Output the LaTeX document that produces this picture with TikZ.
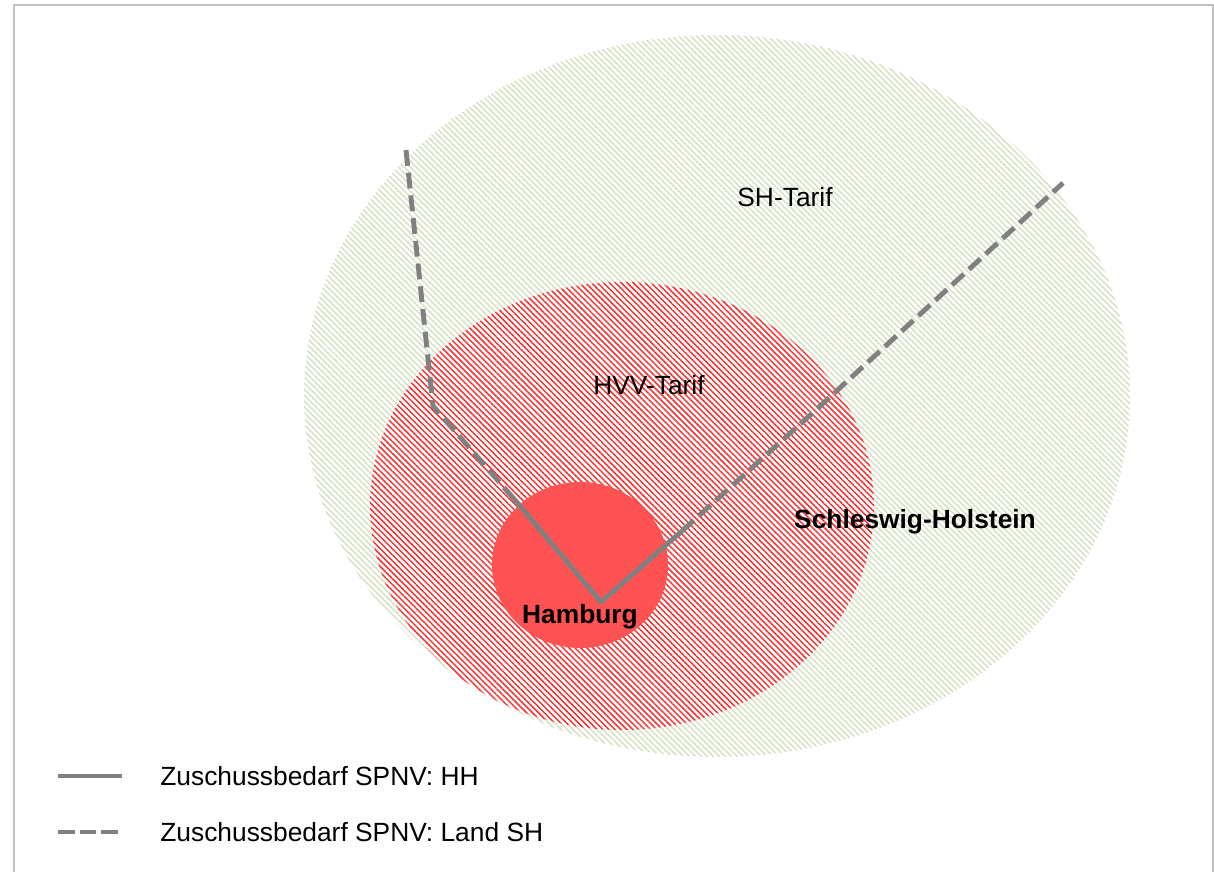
\documentclass[tikz,border=0pt]{standalone}
\usepackage{fontspec}
\setmainfont{Liberation Sans}
\usetikzlibrary{patterns.meta}
\usetikzlibrary{positioning}

\definecolor{framegray}{RGB}{192,192,192}
\definecolor{linegray}{RGB}{128,128,128}
\definecolor{shgreen}{RGB}{212,224,192}
\definecolor{hvvred}{RGB}{245,50,50}
\definecolor{hhred}{RGB}{255,82,82}

\begin{document}
\begin{tikzpicture}[x=0.02cm, y=-0.02cm,
    every node/.style={font=\fontsize{15}{18}\selectfont, inner sep=0pt},
    hh line/.style={draw=linegray, line width=2.8pt},
    sh line/.style={draw=linegray, line width=2.8pt, dash pattern=on 9pt off 4pt},
    sh zone/.style={preaction={fill=white}, pattern={Lines[angle=-45, distance=2.4pt, line width=0.8pt]}, pattern color=shgreen},
    hvv zone/.style={preaction={fill=white}, pattern={Lines[angle=-45, distance=2.4pt, line width=0.85pt]}, pattern color=hvvred}]
        \useasboundingbox (0,0) rectangle (1214,872);
        % Frame
        \draw[framegray, line width=1.1pt] (14,872) -- (14,5) -- (1213,5) -- (1213,872);

        % Tariff zones
        \path[sh zone] (717,396) ellipse (413 and 361);
        \path[hvv zone] (622,506) ellipse (252 and 224);
        \fill[hhred] (580,565) ellipse (88 and 83);

        % Rail lines
        \coordinate (north) at (406,150);
        \coordinate (bendw) at (433,406);
        \coordinate (hhw) at (514,499);
        \coordinate (hub) at (601,602);
        \coordinate (hhe) at (682,531);
        \coordinate (bende) at (818,408);
        \coordinate (east) at (1063,183);
        \draw[sh line] (north) -- (bendw) -- (hhw);
        \draw[hh line] (hhw) -- (hub) -- (hhe);
        \draw[sh line] (hhe) -- (bende) -- (east);

        % Labels
        \node (shtarif) at (785,197) {SH-Tarif};
        \node (hvvtarif) at (649,385) {HVV-Tarif};
        \node[font=\fontsize{15}{18}\selectfont\bfseries] (sh) at (915,522) {Schleswig-Holstein};
        \node[font=\fontsize{15}{18}\selectfont\bfseries] (hh) at (580,617) {Hamburg};

        % Legend
        \coordinate (leg1a) at (58,776);
        \coordinate (leg1b) at (122,776);
        \coordinate (leg2a) at (58,832);
        \coordinate (leg2b) at (122,832);
        \draw[hh line] (leg1a) -- (leg1b);
        \draw[draw=linegray, line width=2.8pt, dash pattern=on 9.5pt off 2.8pt] (leg2a) -- (leg2b);
        \node[anchor=west] (leghh) at (160,776) {Zuschussbedarf SPNV:\ HH};
        \node[anchor=west] (legsh) at (160,832) {Zuschussbedarf SPNV:\ Land SH};
    \end{tikzpicture}
\end{document}
